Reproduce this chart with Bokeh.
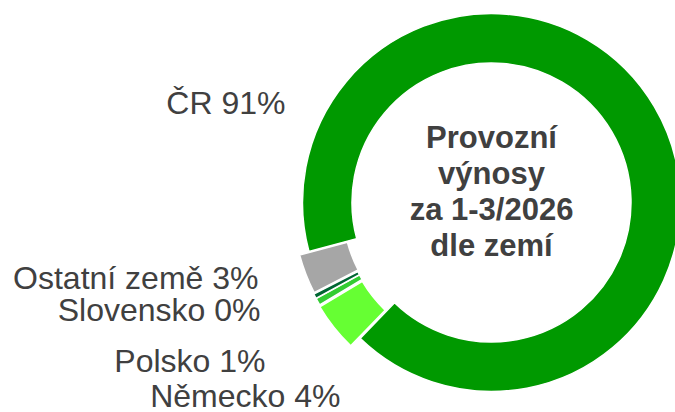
import math
from bokeh.plotting import figure
from bokeh.models import ColumnDataSource, Range1d
from bokeh.core.properties import value
from bokeh.embed import file_html
from bokeh.resources import INLINE

# ---- data ----
countries = ["ČR", "Německo", "Polsko", "Slovensko", "Ostatní země"]
shares = [91.4, 4.2, 0.6, 0.4, 3.4]
title_lines = ["Provozní", "výnosy", "za 1-3/2026", "dle zemí"]

# ---- styles ----
colors = ["#009900", "#66FF33", "#33CC33", "#006633", "#A6A6A6"]
explode_px = [0, 12, 11, 11, 10]
# label anchor (right edge, baseline) in picture pixels
label_px = [(285, 113), (340, 406), (265, 371), (260, 320), (258, 288)]

W, H = 675, 412
cx_page, cy_page = 491, 202
R_OUT, R_IN = 189, 139.5
START_DEG = 195.0   # first slice starts here, runs clockwise
TEXT_COLOR = "#404040"
FONT = "Liberation Sans"
BASELINE_FIX = 11   # renderer places text lower than the baseline


def to_data(px, py):
    return px, H - py


cx, cy = to_data(cx_page, cy_page)

total = sum(shares)
starts, ends, xs, ys = [], [], [], []
acc = 0.0
for v, d in zip(shares, explode_px):
    a0 = math.radians(START_DEG - 360.0 * acc / total)
    acc += v
    a1 = math.radians(START_DEG - 360.0 * acc / total)
    mid = (a0 + a1) / 2
    starts.append(a0)
    ends.append(a1)
    xs.append(cx + d * math.cos(mid))
    ys.append(cy + d * math.sin(mid))

src = ColumnDataSource(dict(x=xs, y=ys, start=starts, end=ends, color=colors))

p = figure(width=W, height=H, output_backend="svg", toolbar_location=None,
           x_range=Range1d(0, W), y_range=Range1d(0, H),
           x_axis_location=None, y_axis_location=None, min_border=0,
           outline_line_color=None, background_fill_color="white",
           border_fill_color="white")
p.grid.visible = False

p.annular_wedge(x="x", y="y", inner_radius=R_IN, outer_radius=R_OUT,
                inner_radius_units="screen", outer_radius_units="screen",
                start_angle="start", end_angle="end", direction="clock",
                fill_color="color", line_color="white", line_width=1.5,
                source=src)

# data labels
lab_x, lab_y, lab_t = [], [], []
for name, v, (px, py) in zip(countries, shares, label_px):
    dx, dy = to_data(px, py - BASELINE_FIX)
    lab_x.append(dx)
    lab_y.append(dy)
    lab_t.append(f"{name} {round(v)}%")
p.text(x=lab_x, y=lab_y, text=lab_t, text_align="right",
       text_baseline="alphabetic", text_font=value(FONT),
       text_font_size="32px", text_color=TEXT_COLOR)

# center title
LINE_H = 36
n = len(title_lines)
ty = [cy + BASELINE_FIX - (i - (n - 1) / 2) * LINE_H for i in range(n)]
p.text(x=[cx] * n, y=ty, text=title_lines, text_align="center",
       text_baseline="alphabetic", text_font=value(FONT),
       text_font_size="31px", text_font_style="bold", text_color=TEXT_COLOR)

open("out.html", "w").write(file_html(p, INLINE))
